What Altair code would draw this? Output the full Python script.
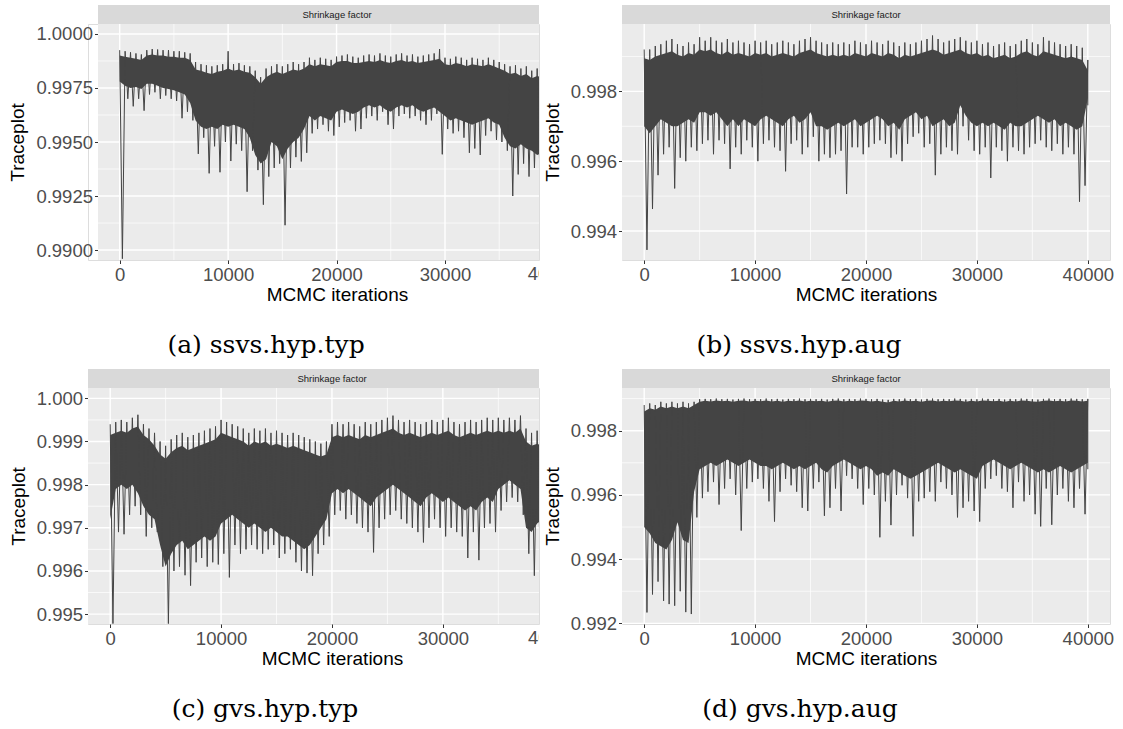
import altair as alt
import pandas as pd

# ---------------- data ----------------
# trace summarised every 500 MCMC iterations: highest peak, upper and lower
# edge of the dense core, and the lowest spike in that stretch
bin_step = 500
x_ticks = [0, 10000, 20000, 30000, 40000]
x_minor = [5000, 15000, 25000, 35000]

a_hi = [.99925,.99920,.99915,.99910,.99905,.99925,.99930,.99928,.99925,.99925,
        .99920,.99920,.99915,.99910,.99870,.99860,.99855,.99850,.99855,.99860,
        .99920,.99860,.99865,.99855,.99850,.99830,.99800,.99840,.99850,.99860,
        .99850,.99860,.99870,.99860,.99870,.99890,.99880,.99890,.99885,.99880,
        .99895,.99900,.99905,.99895,.99890,.99900,.99905,.99900,.99910,.99900,
        .99895,.99905,.99910,.99900,.99905,.99895,.99900,.99905,.99910,.99930,
        .99890,.99885,.99895,.99890,.99880,.99890,.99885,.99880,.99890,.99880,
        .99870,.99860,.99850,.99855,.99840,.99850,.99830,.99840,.99830]
a_top = [.99900,.99895,.99890,.99885,.99880,.99900,.99905,.99900,.99900,.99895,
         .99895,.99890,.99890,.99880,.99835,.99830,.99820,.99815,.99825,.99830,
         .99840,.99830,.99835,.99825,.99820,.99800,.99770,.99800,.99815,.99825,
         .99815,.99825,.99835,.99830,.99840,.99860,.99850,.99860,.99855,.99850,
         .99870,.99875,.99875,.99865,.99865,.99870,.99875,.99870,.99880,.99870,
         .99865,.99875,.99880,.99870,.99875,.99865,.99870,.99875,.99880,.99885,
         .99860,.99855,.99865,.99860,.99850,.99860,.99855,.99850,.99860,.99850,
         .99840,.99830,.99815,.99820,.99805,.99815,.99795,.99805,.99800]
a_core = [.99780,.99760,.99750,.99755,.99745,.99770,.99770,.99760,.99750,.99745,
          .99740,.99730,.99720,.99680,.99600,.99570,.99560,.99570,.99560,.99580,
          .99570,.99580,.99570,.99560,.99520,.99440,.99400,.99420,.99500,.99480,
          .99420,.99470,.99500,.99520,.99560,.99620,.99600,.99620,.99610,.99600,
          .99640,.99650,.99640,.99630,.99640,.99660,.99670,.99660,.99670,.99650,
          .99640,.99660,.99670,.99660,.99670,.99650,.99640,.99650,.99660,.99640,
          .99620,.99600,.99610,.99600,.99590,.99580,.99590,.99600,.99610,.99590,
          .99580,.99520,.99480,.99470,.99490,.99470,.99460,.99440,.99450]
a_lo = [.98960,.99700,.99665,.99700,.99645,.99720,.99730,.99700,.99715,.99700,
        .99690,.99610,.99640,.99600,.99445,.99520,.99355,.99480,.99360,.99500,
        .99412,.99490,.99460,.99270,.99460,.99370,.99210,.99340,.99380,.99400,
        .99115,.99380,.99430,.99410,.99450,.99540,.99560,.99580,.99550,.99530,
        .99570,.99590,.99600,.99550,.99560,.99610,.99620,.99600,.99640,.99580,
        .99560,.99620,.99630,.99610,.99620,.99600,.99580,.99600,.99630,.99443,
        .99560,.99540,.99550,.99520,.99450,.99470,.99440,.99530,.99550,.99510,
        .99500,.99460,.99250,.99350,.99400,.99340,.99380,.99355,.99400]

b_hi = [.99920,.99920,.99930,.99935,.99945,.99950,.99935,.99930,.99940,.99935,
        .99955,.99945,.99955,.99945,.99940,.99950,.99940,.99945,.99940,.99935,
        .99945,.99940,.99945,.99935,.99940,.99945,.99940,.99935,.99945,.99950,
        .99955,.99945,.99940,.99935,.99940,.99935,.99940,.99935,.99945,.99940,
        .99935,.99945,.99940,.99935,.99945,.99940,.99930,.99940,.99935,.99940,
        .99945,.99950,.99960,.99950,.99940,.99945,.99950,.99955,.99945,.99940,
        .99945,.99935,.99940,.99930,.99935,.99940,.99930,.99935,.99945,.99950,
        .99940,.99935,.99955,.99945,.99940,.99935,.99930,.99935,.99930,.99925,
        .99890]
b_top = [.99895,.99890,.99900,.99905,.99910,.99915,.99905,.99900,.99910,.99905,
         .99920,.99915,.99920,.99910,.99905,.99915,.99905,.99910,.99905,.99900,
         .99910,.99905,.99910,.99900,.99905,.99910,.99905,.99900,.99910,.99915,
         .99920,.99910,.99905,.99900,.99905,.99900,.99905,.99900,.99910,.99905,
         .99900,.99910,.99905,.99900,.99910,.99905,.99895,.99905,.99900,.99905,
         .99910,.99915,.99920,.99915,.99905,.99910,.99915,.99920,.99910,.99905,
         .99910,.99900,.99905,.99895,.99900,.99905,.99895,.99900,.99910,.99915,
         .99905,.99900,.99915,.99910,.99905,.99900,.99895,.99900,.99895,.99890,
         .99860]
b_core = [.99700,.99680,.99700,.99720,.99710,.99700,.99700,.99710,.99720,.99710,
          .99740,.99740,.99730,.99740,.99720,.99700,.99720,.99700,.99720,.99710,
          .99700,.99720,.99730,.99720,.99710,.99700,.99720,.99730,.99710,.99720,
          .99740,.99700,.99700,.99690,.99700,.99710,.99700,.99710,.99720,.99700,
          .99710,.99720,.99730,.99720,.99700,.99710,.99690,.99720,.99730,.99740,
          .99720,.99730,.99700,.99710,.99720,.99700,.99710,.99760,.99730,.99710,
          .99700,.99710,.99700,.99710,.99700,.99690,.99710,.99700,.99700,.99710,
          .99720,.99730,.99720,.99710,.99720,.99700,.99710,.99700,.99690,.99700,
          .99780]
b_lo = [.99346,.99463,.99560,.99620,.99640,.99522,.99610,.99600,.99640,.99630,
        .99650,.99660,.99620,.99660,.99650,.99578,.99640,.99620,.99660,.99640,
        .99600,.99650,.99660,.99640,.99630,.99571,.99650,.99660,.99620,.99640,
        .99670,.99600,.99620,.99610,.99620,.99630,.99506,.99640,.99640,.99620,
        .99640,.99650,.99660,.99650,.99610,.99620,.99600,.99650,.99670,.99680,
        .99640,.99650,.99560,.99620,.99640,.99630,.99620,.99700,.99660,.99630,
        .99620,.99640,.99552,.99640,.99630,.99600,.99640,.99630,.99620,.99640,
        .99650,.99660,.99640,.99630,.99650,.99620,.99640,.99620,.99484,.99530,
        .99760]

c_hi = [.99940,.99945,.99950,.99945,.99955,.99962,.99940,.99930,.99920,.99900,
        .99890,.99905,.99915,.99920,.99910,.99915,.99920,.99925,.99930,.99935,
        .99950,.99945,.99940,.99935,.99930,.99920,.99930,.99925,.99930,.99920,
        .99925,.99920,.99915,.99920,.99915,.99910,.99905,.99900,.99895,.99900,
        .99940,.99945,.99940,.99945,.99940,.99935,.99945,.99940,.99945,.99950,
        .99955,.99960,.99950,.99945,.99950,.99945,.99940,.99945,.99950,.99945,
        .99950,.99955,.99945,.99940,.99945,.99950,.99945,.99950,.99955,.99950,
        .99955,.99950,.99955,.99950,.99960,.99930,.99920,.99925,.99920]
c_top = [.99915,.99920,.99925,.99920,.99930,.99935,.99915,.99905,.99890,.99870,
         .99860,.99875,.99885,.99890,.99880,.99885,.99890,.99895,.99900,.99905,
         .99920,.99915,.99910,.99905,.99900,.99890,.99900,.99895,.99900,.99890,
         .99895,.99890,.99885,.99890,.99885,.99880,.99875,.99870,.99865,.99870,
         .99910,.99915,.99910,.99915,.99910,.99905,.99915,.99910,.99915,.99920,
         .99925,.99930,.99920,.99915,.99920,.99915,.99910,.99915,.99920,.99915,
         .99920,.99925,.99915,.99910,.99915,.99920,.99915,.99920,.99925,.99920,
         .99925,.99920,.99925,.99920,.99930,.99900,.99890,.99895,.99890]
c_core = [.99720,.99790,.99800,.99790,.99800,.99780,.99750,.99730,.99720,.99660,
          .99610,.99640,.99660,.99670,.99650,.99660,.99670,.99680,.99670,.99680,
          .99710,.99720,.99730,.99720,.99710,.99700,.99710,.99700,.99690,.99700,
          .99690,.99680,.99680,.99670,.99660,.99650,.99660,.99680,.99700,.99720,
          .99780,.99790,.99780,.99790,.99780,.99770,.99760,.99750,.99770,.99780,
          .99790,.99800,.99790,.99780,.99770,.99760,.99750,.99770,.99780,.99770,
          .99760,.99770,.99760,.99750,.99740,.99750,.99740,.99760,.99770,.99760,
          .99790,.99800,.99810,.99800,.99790,.99700,.99690,.99710,.99720]
c_lo = [.99478,.99690,.99685,.99730,.99750,.99730,.99680,.99700,.99690,.99610,
        .99478,.99600,.99610,.99590,.99566,.99620,.99630,.99610,.99620,.99615,
        .99640,.99585,.99660,.99640,.99650,.99660,.99650,.99640,.99650,.99660,
        .99630,.99640,.99650,.99620,.99600,.99595,.99589,.99640,.99660,.99680,
        .99730,.99740,.99720,.99730,.99710,.99700,.99690,.99643,.99700,.99720,
        .99730,.99740,.99720,.99710,.99700,.99690,.99666,.99700,.99720,.99700,
        .99680,.99700,.99690,.99680,.99630,.99690,.99625,.99700,.99710,.99690,
        .99740,.99760,.99770,.99760,.99730,.99640,.99589,.99660,.99680]

d_hi = [.99880,.99885,.99880,.99890,.99885,.99890,.99885,.99890,.99885,.99890,
        .99898,.99899,.99898,.99900,.99898,.99899,.99897,.99899,.99900,.99898,
        .99899,.99898,.99900,.99898,.99899,.99897,.99899,.99898,.99900,.99898,
        .99899,.99898,.99899,.99897,.99899,.99900,.99898,.99899,.99898,.99900,
        .99899,.99898,.99899,.99897,.99896,.99899,.99898,.99900,.99898,.99899,
        .99897,.99899,.99900,.99898,.99899,.99898,.99900,.99899,.99897,.99899,
        .99898,.99900,.99899,.99898,.99899,.99897,.99899,.99898,.99900,.99899,
        .99898,.99897,.99899,.99900,.99898,.99899,.99898,.99900,.99899,.99898,
        .99899]
d_top = [.99860,.99870,.99865,.99875,.99870,.99875,.99870,.99875,.99870,.99880,
         .99890,.99893,.99891,.99894,.99892,.99893,.99890,.99893,.99894,.99891,
         .99893,.99892,.99894,.99891,.99893,.99890,.99893,.99892,.99894,.99891,
         .99893,.99892,.99893,.99890,.99893,.99894,.99891,.99893,.99892,.99894,
         .99893,.99891,.99893,.99890,.99888,.99893,.99891,.99894,.99892,.99893,
         .99890,.99893,.99894,.99891,.99893,.99892,.99894,.99893,.99890,.99893,
         .99891,.99894,.99893,.99892,.99893,.99890,.99893,.99891,.99894,.99893,
         .99891,.99890,.99893,.99894,.99892,.99893,.99891,.99894,.99893,.99891,
         .99893]
d_core = [.99500,.99480,.99450,.99440,.99430,.99460,.99515,.99460,.99450,.99610,
          .99680,.99690,.99700,.99690,.99700,.99710,.99700,.99690,.99700,.99710,
          .99700,.99690,.99690,.99680,.99690,.99700,.99690,.99680,.99690,.99680,
          .99690,.99700,.99680,.99670,.99690,.99700,.99710,.99700,.99690,.99680,
          .99690,.99680,.99660,.99670,.99660,.99680,.99670,.99660,.99650,.99660,
          .99670,.99680,.99690,.99700,.99690,.99680,.99670,.99680,.99670,.99660,
          .99650,.99690,.99700,.99710,.99700,.99690,.99680,.99690,.99700,.99690,
          .99680,.99670,.99680,.99670,.99680,.99690,.99680,.99670,.99680,.99690,
          .99700]
d_lo = [.99234,.99290,.99330,.99270,.99260,.99255,.99300,.99235,.99229,.99530,
        .99590,.99610,.99640,.99570,.99620,.99650,.99600,.99489,.99620,.99640,
        .99650,.99620,.99580,.99517,.99610,.99650,.99630,.99610,.99560,.99550,
        .99620,.99640,.99535,.99560,.99620,.99550,.99660,.99650,.99620,.99570,
        .99620,.99600,.99468,.99580,.99506,.99600,.99630,.99590,.99471,.99580,
        .99590,.99610,.99580,.99640,.99620,.99600,.99530,.99560,.99580,.99550,
        .99517,.99620,.99650,.99660,.99620,.99610,.99560,.99640,.99580,.99600,
        .99540,.99502,.99620,.99507,.99600,.99620,.99580,.99560,.99620,.99540,
        .99680]

# ---------------- styling ----------------
TRACE = "#444444"
PANEL_BG = "#EBEBEB"
STRIP_BG = "#D9D9D9"
SANS = "Liberation Sans"
SERIF = "DejaVu Serif"
H = 236


def panel(hi, top, core, lo, ydom, yticks, yminor, yfmt, caption, cap_dx,
          x0, W, xdom, title_x, cut_label, cover):
    n = len(hi)
    its = [i * bin_step for i in range(n)]
    df = pd.DataFrame({"it": its, "top": top, "core": core})
    # trace path: from each stretch's peak down to its lowest spike
    zz_x, zz_v, zz_o = [], [], []
    for i in range(n):
        zz_x += [its[i], its[i] + (bin_step // 2 if i < n - 1 else 0)]
        zz_v += [hi[i], lo[i]]
        zz_o += [2 * i, 2 * i + 1]
    zz = pd.DataFrame({"it": zz_x, "v": zz_v, "o": zz_o})

    xs = alt.Scale(domain=xdom, range=[x0, W], nice=False, zero=False)
    ys = alt.Scale(domain=ydom, nice=False, zero=False)
    xaxis = alt.Axis(values=x_ticks, format="d", title="MCMC iterations",
                     grid=False, domain=False, tickColor="#333333",
                     tickSize=3.5, tickWidth=1, labelColor="#4D4D4D",
                     labelFont=SANS, labelFontSize=18.5, labelPadding=1.5,
                     labelFlush=False, labelOverlap=False,
                     titleFont=SANS, titleFontSize=19, titleFontWeight="normal",
                     titleColor="#000000", titlePadding=2, titleX=title_x)
    yaxis = alt.Axis(values=yticks, format=yfmt, title="Traceplot",
                     grid=False, domain=False, tickColor="#333333",
                     tickSize=3.5, tickWidth=1, labelColor="#4D4D4D",
                     labelFont=SANS, labelFontSize=18.5, labelPadding=2,
                     labelFlush=False, labelOverlap=False,
                     titleFont=SANS, titleFontSize=19, titleFontWeight="normal",
                     titleColor="#000000", titlePadding=8, offset=-x0)

    def X(f):
        return alt.X(f, type="quantitative", scale=xs, axis=xaxis)

    def Y(f):
        return alt.Y(f, type="quantitative", scale=ys, axis=yaxis)

    one = pd.DataFrame({"k": [0]})
    bg = alt.Chart(one).mark_rect(color=PANEL_BG).encode(
        x=alt.value(x0), x2=alt.value(W), y=alt.value(0), y2=alt.value(H))
    gx_min = alt.Chart(pd.DataFrame({"v": x_minor})).mark_rule(
        color="white", strokeWidth=0.7, clip=True).encode(x=X("v"))
    gx_maj = alt.Chart(pd.DataFrame({"v": x_ticks})).mark_rule(
        color="white", strokeWidth=1.4, clip=True).encode(x=X("v"))
    gy_min = alt.Chart(pd.DataFrame({"v": yminor})).mark_rule(
        color="white", strokeWidth=0.7, clip=True).encode(
        y=Y("v"), x=alt.value(x0), x2=alt.value(W))
    gy_maj = alt.Chart(pd.DataFrame({"v": yticks})).mark_rule(
        color="white", strokeWidth=1.4, clip=True).encode(
        y=Y("v"), x=alt.value(x0), x2=alt.value(W))
    band = alt.Chart(df).mark_area(color=TRACE, clip=True).encode(
        x=X("it"), y=Y("top"), y2="core:Q")
    trace = alt.Chart(zz).mark_line(color=TRACE, strokeWidth=1.0, clip=True).encode(
        x=X("it"), y=Y("v"), order="o:Q")
    strip = alt.Chart(one).mark_rect(color=STRIP_BG).encode(
        x=alt.value(x0), x2=alt.value(W), y=alt.value(-19), y2=alt.value(0))
    strip_txt = alt.Chart(one).mark_text(
        text="Shrinkage factor", font=SANS, fontSize=9.5, color="#1A1A1A",
        align="center", baseline="middle").encode(
        x=alt.value(title_x), y=alt.value(-9.5))
    layers = [bg, gx_min, gy_min, gx_maj, gy_maj, band, trace, strip, strip_txt]
    if cut_label:
        layers.append(alt.Chart(pd.DataFrame({"v": [40000]})).mark_text(
            font=SANS, fontSize=18.5, color="#4D4D4D", align="center",
            baseline="top").encode(x=X("v"), y=alt.value(H + 5),
                                   text=alt.value("40000")))
    if cover:
        layers.append(alt.Chart(one).mark_rect(color="white").encode(
            x=alt.value(-83), x2=alt.value(-35),
            y=alt.value(H + 7), y2=alt.value(H + 30)))
        layers.append(alt.Chart(one).mark_rect(color="white").encode(
            x=alt.value(-83), x2=alt.value(-53),
            y=alt.value(H + 1), y2=alt.value(H + 7)))
    return alt.layer(*layers).properties(
        width=W, height=H,
        title=alt.TitleParams(caption, orient="bottom", anchor="middle",
                              font=SERIF, fontSize=25, fontWeight="normal",
                              color="#000000", dx=cap_dx, offset=28))


pa = panel(a_hi, a_top, a_core, a_lo, [0.98954, 1.00046],
           [0.9900, 0.9925, 0.9950, 0.9975, 1.0000],
           [0.99125, 0.99375, 0.99625, 0.99875], ".4f",
           "(a) ssvs.hyp.typ", -47.5, 10, 451, [-2000, 38670], 249, True, False)
pb = panel(b_hi, b_top, b_core, b_lo, [0.99317, 0.99993],
           [0.994, 0.996, 0.998], [0.995, 0.997, 0.999], ".3f",
           "(b) ssvs.hyp.aug", -67, 0, 488, [-2000, 42000], 244, False, True)
pc = panel(c_hi, c_top, c_core, c_lo, [0.99477, 1.00024],
           [0.995, 0.996, 0.997, 0.998, 0.999, 1.000],
           [0.9955, 0.9965, 0.9975, 0.9985, 0.9995], ".3f",
           "(c) gvs.hyp.typ", -48.5, 0, 451, [-2000, 38670], 244, True, False)
pd_ = panel(d_hi, d_top, d_core, d_lo, [0.99198, 0.99933],
            [0.992, 0.994, 0.996, 0.998], [0.993, 0.995, 0.997, 0.999], ".3f",
            "(d) gvs.hyp.aug", -66, 0, 488, [-2000, 42000], 244, False, True)

row1 = alt.hconcat(pa, pb, spacing=83, bounds="flush")
row2 = alt.hconcat(pc, pd_, spacing=83, bounds="flush")
chart = alt.vconcat(row1, row2, spacing=10).properties(
    padding={"left": 8, "top": 4, "right": 0, "bottom": 0}
).configure_view(strokeWidth=0).configure(background="white")

chart.save("out.html", embed_options={"renderer": "svg", "actions": False})
